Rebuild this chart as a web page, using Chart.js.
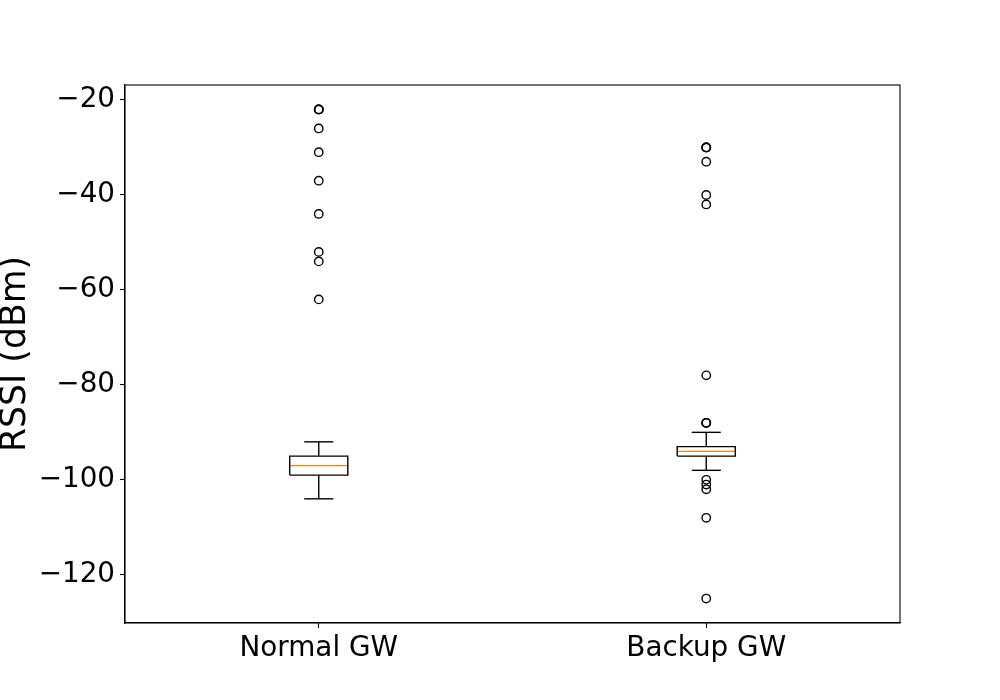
<!DOCTYPE html>
<html>
<head>
<meta charset="utf-8">
<script src="https://cdn.jsdelivr.net/npm/chart.js@4/dist/chart.umd.min.js"></script>
<style>
  html, body { margin: 0; padding: 0; background: #fff; }
  #wrap { width: 1000px; height: 700px; position: relative; }
</style>
</head>
<body>
<div id="wrap"><canvas id="chart"></canvas></div>
<script>
"use strict";

// box plot stats
const categories = ["Normal GW", "Backup GW"];
const positions = [1, 2];
const q1 = [-99, -95];
const q3 = [-95, -93];
const medians = [-97, -94];
const whiskerLow = [-104, -98];
const whiskerHigh = [-92, -90];
const outliersNormal = [-22, -22, -22, -26, -31, -37, -44, -52, -54, -62];
const outliersBackup = [-30, -30, -30, -33, -40, -42, -78, -88, -88, -88, -100, -101, -102, -108, -125];
const yTicks = [-120, -100, -80, -60, -40, -20];

const BOX_W = 0.15;
const CAP_W = 0.075;
const LW = 1.4;

function seg(points, color) {
  return {
    type: "scatter",
    data: points,
    showLine: true,
    borderColor: color,
    borderWidth: LW,
    pointRadius: 0,
    pointHoverRadius: 0,
    fill: false
  };
}

const datasets = [];
positions.forEach((p, i) => {
  const l = p - BOX_W / 2, r = p + BOX_W / 2;
  // box
  datasets.push(seg([
    {x: l, y: q1[i]}, {x: r, y: q1[i]}, {x: r, y: q3[i]}, {x: l, y: q3[i]}, {x: l, y: q1[i]}
  ], "#000"));
  // whiskers
  datasets.push(seg([{x: p, y: q1[i]}, {x: p, y: whiskerLow[i]}], "#000"));
  datasets.push(seg([{x: p, y: q3[i]}, {x: p, y: whiskerHigh[i]}], "#000"));
  // caps
  datasets.push(seg([{x: p - CAP_W / 2, y: whiskerLow[i]}, {x: p + CAP_W / 2, y: whiskerLow[i]}], "#000"));
  datasets.push(seg([{x: p - CAP_W / 2, y: whiskerHigh[i]}, {x: p + CAP_W / 2, y: whiskerHigh[i]}], "#000"));
  // median
  datasets.push(seg([{x: l, y: medians[i]}, {x: r, y: medians[i]}], "#ff7f0e"));
});

[outliersNormal, outliersBackup].forEach((list, i) => {
  datasets.push({
    type: "scatter",
    data: list.map(v => ({x: positions[i], y: v})),
    pointStyle: "circle",
    pointRadius: 4.2,
    pointBorderWidth: LW,
    pointBorderColor: "#000",
    pointBackgroundColor: "rgba(0,0,0,0)",
    showLine: false
  });
});

// frame round the plot area, like the matplotlib spines
const framePlugin = {
  id: "frame",
  afterDraw(chart) {
    const a = chart.chartArea;
    const ctx = chart.ctx;
    ctx.save();
    ctx.strokeStyle = "#000";
    ctx.lineWidth = 1.1;
    ctx.strokeRect(a.left, a.top, a.right - a.left, a.bottom - a.top);
    ctx.restore();
  }
};

const FONT = "'DejaVu Sans', sans-serif";

new Chart(document.getElementById("chart"), {
  type: "scatter",
  data: { datasets: datasets },
  options: {
    responsive: true,
    maintainAspectRatio: false,
    animation: false,
    events: [],
    layout: { padding: { left: 0, top: 85, right: 100, bottom: 0 } },
    plugins: {
      legend: { display: false },
      tooltip: { enabled: false }
    },
    scales: {
      x: {
        type: "linear",
        min: 0.5,
        max: 2.5,
        afterBuildTicks(scale) {
          scale.ticks = positions.map(v => ({ value: v }));
        },
        afterFit(scale) { scale.height = 77; },
        ticks: {
          color: "#000",
          font: { family: FONT, size: 27.8 },
          padding: 4,
          autoSkip: false,
          maxRotation: 0,
          callback: (v) => {
            const i = positions.indexOf(v);
            return i >= 0 ? categories[i] : "";
          }
        },
        grid: {
          drawOnChartArea: false,
          drawTicks: true,
          tickLength: 5,
          tickColor: "#000",
          tickWidth: 1.1
        },
        border: { display: true, color: "#000", width: 1.1 }
      },
      y: {
        type: "linear",
        min: -130.15,
        max: -16.85,
        afterBuildTicks(scale) {
          scale.ticks = yTicks.map(v => ({ value: v }));
        },
        afterFit(scale) { scale.width = 125; },
        title: {
          display: true,
          text: "RSSI (dBm)",
          color: "#000",
          font: { family: FONT, size: 34.7 },
          padding: { top: -5, bottom: 0 }
        },
        ticks: {
          color: "#000",
          font: { family: FONT, size: 27.8 },
          padding: 5,
          callback: (v) => (v < 0 ? "\u2212" + Math.abs(v) : String(v))
        },
        grid: {
          drawOnChartArea: false,
          drawTicks: true,
          tickLength: 5,
          tickColor: "#000",
          tickWidth: 1.1
        },
        border: { display: true, color: "#000", width: 1.1 }
      }
    }
  },
  plugins: [framePlugin]
});
</script>
</body>
</html>
